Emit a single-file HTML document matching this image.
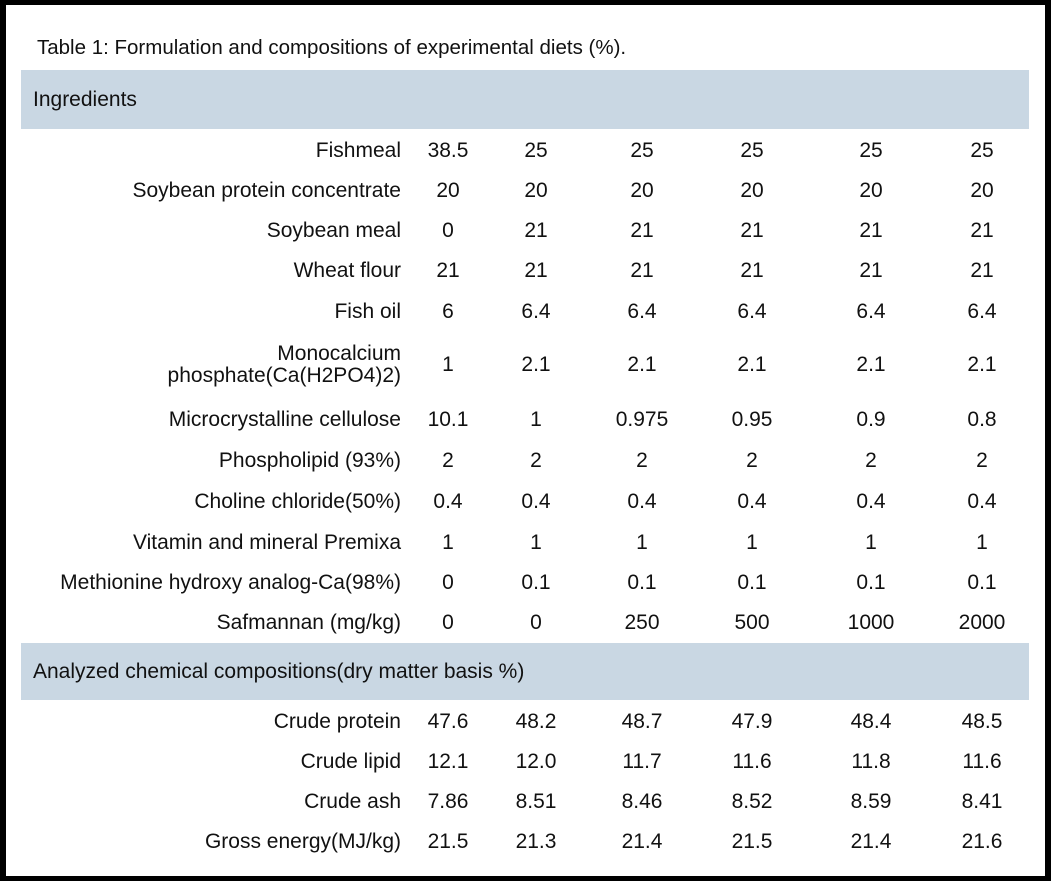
<!DOCTYPE html>
<html><head><meta charset="utf-8"><style>
html,body{margin:0;padding:0;background:#fff;}
#frame{position:relative;width:1051px;height:881px;box-sizing:border-box;border-left:6px solid #000;border-top:5px solid #000;border-right:6px solid #000;border-bottom:5px solid #000;font-family:"Liberation Sans",sans-serif;color:#111;overflow:hidden;}
.t{position:absolute;font-size:21px;line-height:24px;white-space:nowrap;}
.hdr{position:absolute;left:15px;width:1008px;background:#c9d7e3;}
.lab{position:absolute;right:644px;text-align:right;font-size:21px;line-height:22px;white-space:nowrap;}
.v{position:absolute;width:100px;text-align:center;font-size:21px;line-height:24px;}
</style></head><body>
<div id="frame">
<div class="t" style="left:31px;top:31px;font-size:20.5px;">Table 1: Formulation and compositions of experimental diets (%).</div>
<div class="hdr" style="top:65px;height:59px;"><span class="t" style="left:12px;top:18px;">Ingredients</span></div>
<div class="hdr" style="top:638px;height:57px;"><span class="t" style="left:12px;top:17px;">Analyzed chemical compositions(dry matter basis %)</span></div>
<div id="rows"></div>
</div>
<script>
const labels=["Fishmeal","Soybean protein concentrate","Soybean meal","Wheat flour","Fish oil","Monocalcium<br>phosphate(Ca(H2PO4)2)","Microcrystalline cellulose","Phospholipid (93%)","Choline chloride(50%)","Vitamin and mineral Premixa","Methionine hydroxy analog-Ca(98%)","Safmannan (mg/kg)","Crude protein","Crude lipid","Crude ash","Gross energy(MJ/kg)"];
const values=[["38.5","25","25","25","25","25"],["20","20","20","20","20","20"],["0","21","21","21","21","21"],["21","21","21","21","21","21"],["6","6.4","6.4","6.4","6.4","6.4"],["1","2.1","2.1","2.1","2.1","2.1"],["10.1","1","0.975","0.95","0.9","0.8"],["2","2","2","2","2","2"],["0.4","0.4","0.4","0.4","0.4","0.4"],["1","1","1","1","1","1"],["0","0.1","0.1","0.1","0.1","0.1"],["0","0","250","500","1000","2000"],["47.6","48.2","48.7","47.9","48.4","48.5"],["12.1","12.0","11.7","11.6","11.8","11.6"],["7.86","8.51","8.46","8.52","8.59","8.41"],["21.5","21.3","21.4","21.5","21.4","21.6"]];
const rowY=[150,190,230,270,311,364,419,460,501,542,582,622,721,761,801,841];
const colX=[448,536,642,752,871,982];
const root=document.getElementById('rows');
labels.forEach((l,i)=>{
  const d=document.createElement('div');d.className='lab';
  
  
  d.innerHTML=l;
  const lines=l.includes('<br>')?2:1;
  d.style.top=(rowY[i]-4-11*lines)+'px';
  root.appendChild(d);
  values[i].forEach((v,j)=>{
    const c=document.createElement('div');c.className='v';
    
    
    c.textContent=v;
    c.style.left=(colX[j]-6-50)+'px';c.style.top=(rowY[i]-4-12)+'px';
    root.appendChild(c);
  });
});
</script>
</body></html>
